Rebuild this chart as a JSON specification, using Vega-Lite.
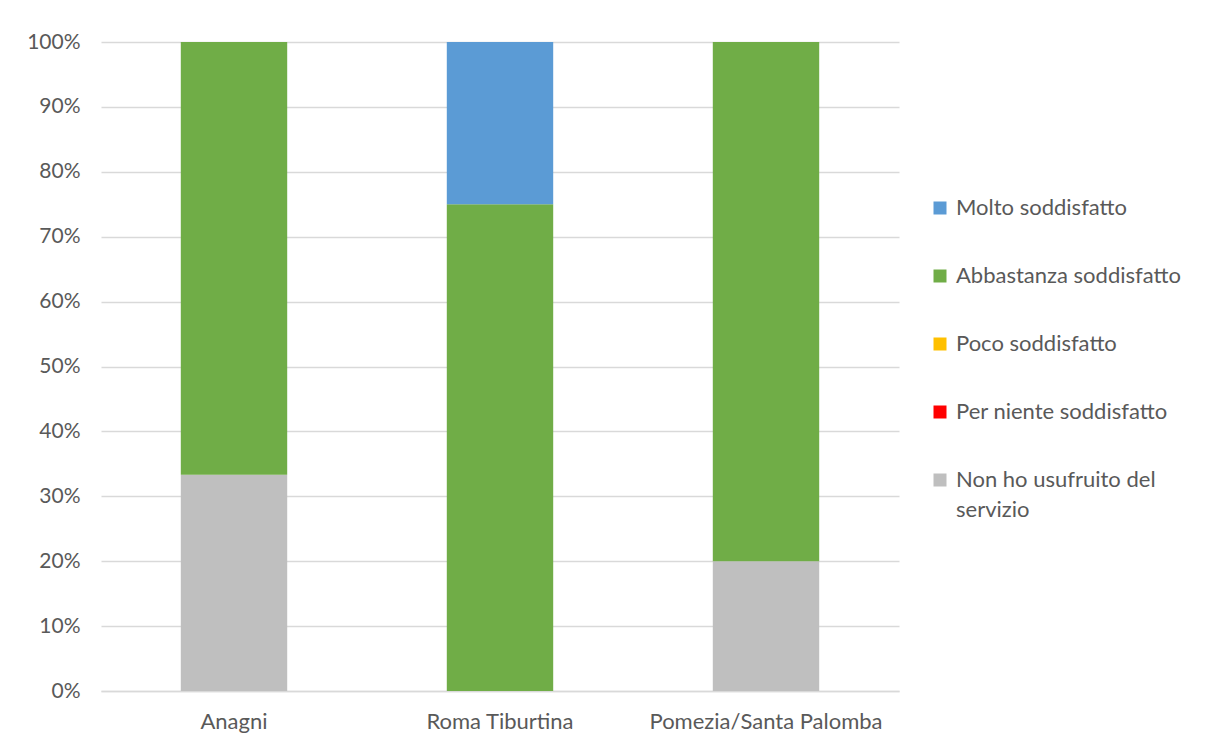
{
  "$schema": "https://vega.github.io/schema/vega-lite/v6.json",
  "width": 798,
  "height": 649,
  "autosize": "none",
  "padding": {"left": 101, "top": 42, "right": 309, "bottom": 53},
  "background": "white",
  "data": {
    "values": [
      {"sede": "Anagni", "giudizio": "Non ho usufruito del servizio", "livello": 1, "quota": 0.3333},
      {"sede": "Anagni", "giudizio": "Abbastanza soddisfatto", "livello": 4, "quota": 0.6667},
      {"sede": "Roma Tiburtina", "giudizio": "Abbastanza soddisfatto", "livello": 4, "quota": 0.75},
      {"sede": "Roma Tiburtina", "giudizio": "Molto soddisfatto", "livello": 5, "quota": 0.25},
      {"sede": "Pomezia/Santa Palomba", "giudizio": "Non ho usufruito del servizio", "livello": 1, "quota": 0.2},
      {"sede": "Pomezia/Santa Palomba", "giudizio": "Abbastanza soddisfatto", "livello": 4, "quota": 0.8}
    ]
  },
  "mark": {"type": "bar"},
  "encoding": {
    "x": {
      "field": "sede",
      "type": "nominal",
      "sort": ["Anagni", "Roma Tiburtina", "Pomezia/Santa Palomba"],
      "scale": {"paddingInner": 0.6, "paddingOuter": 0.3},
      "axis": {
        "title": null,
        "labelAngle": 0,
        "ticks": false,
        "domainColor": "#d9d9d9",
        "domainWidth": 1.5,
        "labelPadding": 20,
        "labelFontSize": 22,
        "labelLimit": 400,
        "labelColor": "#595959"
      }
    },
    "y": {
      "field": "quota",
      "type": "quantitative",
      "stack": "zero",
      "scale": {"domain": [0, 1]},
      "axis": {
        "title": null,
        "format": ".0%",
        "values": [0, 0.1, 0.2, 0.3, 0.4, 0.5, 0.6, 0.7, 0.8, 0.9, 1],
        "domain": false,
        "ticks": false,
        "gridColor": "#d9d9d9",
        "gridWidth": 1.5,
        "labelPadding": 21,
        "labelFontSize": 21,
        "labelColor": "#595959"
      }
    },
    "color": {
      "field": "giudizio",
      "type": "nominal",
      "scale": {
        "domain": ["Molto soddisfatto", "Abbastanza soddisfatto", "Poco soddisfatto", "Per niente soddisfatto", "Non ho usufruito del servizio"],
        "range": ["#5B9BD5", "#70AD47", "#FFC000", "#FF0000", "#BFBFBF"]
      },
      "legend": {
        "title": null,
        "orient": "none",
        "legendX": 828,
        "legendY": 155,
        "symbolType": "square",
        "symbolSize": 169,
        "symbolStrokeWidth": 0,
        "labelFontSize": 22,
        "labelColor": "#595959",
        "labelOffset": 5,
        "labelLimit": 300,
        "rowPadding": 46,
        "labelExpr": "datum.label == 'Non ho usufruito del servizio' ? ['Non ho usufruito del', 'servizio'] : datum.label",
        "labelBaseline": "middle"
      }
    },
    "order": {"field": "livello", "type": "quantitative"}
  },
  "config": {
    "view": {"stroke": null},
    "font": "Lato",
    "style": {"guide-label": {"lineHeight": 30}}
  }
}
